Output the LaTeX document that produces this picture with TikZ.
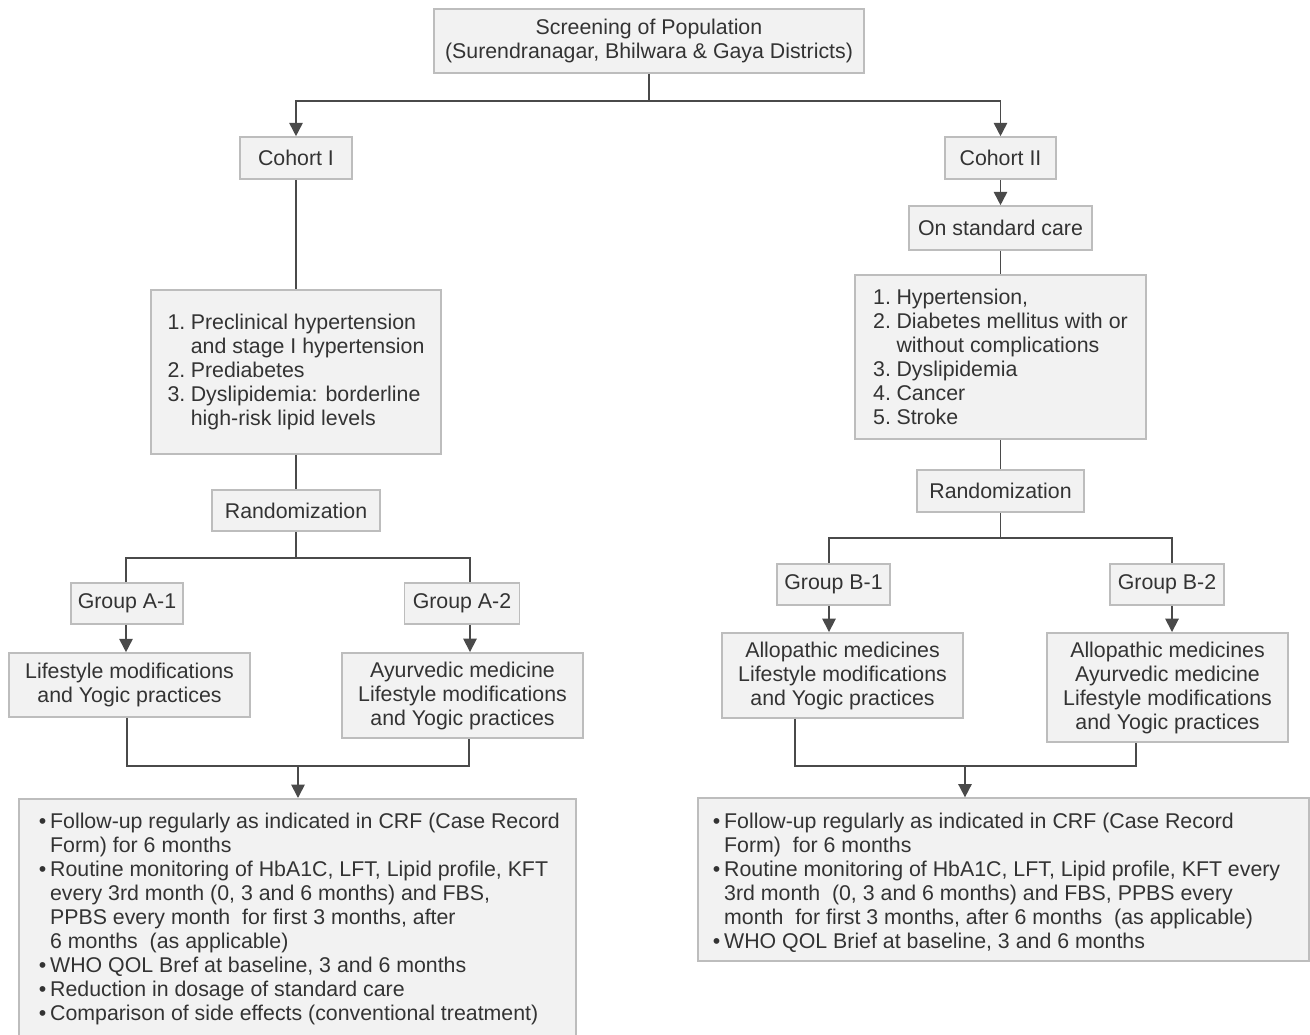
\documentclass[tikz,border=0pt]{standalone}
\usepackage{fontspec}
\setmainfont{Liberation Sans}
\usetikzlibrary{arrows.meta}
\definecolor{boxfill}{HTML}{F2F2F2}
\definecolor{boxline}{HTML}{BDBDBD}
\definecolor{wirecol}{HTML}{4A4A4A}
\definecolor{ink}{HTML}{333333}
% bullet and hanging indent for the list boxes
\newcommand\bul{\makebox[8.5pt][l]{\textbullet}}
\newcommand\bind{\hspace*{8.5pt}}
\newcommand\num[1]{\makebox[17.5pt][l]{#1}}
\newcommand\nind{\hspace*{17.5pt}}

\begin{document}
\begin{tikzpicture}[x=0.75pt,y=-0.75pt,
  box/.style={draw=boxline, fill=boxfill, line width=1.2pt, inner sep=0pt,
    text=ink, font=\fontsize{16}{18}\selectfont, align=center},
  listbox/.style={box, align=left},
  wire/.style={draw=wirecol, line width=1.3pt},
  arr/.style={wire, -{Triangle[width=10pt,length=10pt]}}]
\path[use as bounding box, clip] (0,0) rectangle (1310,1035);

% ---- top ----
\node[box, minimum width=322.5pt, minimum height=48pt] (screen) at (649,41)
  {Screening of Population\\(Surendranagar, Bhilwara \& Gaya Districts)};
\node[box, minimum width=84pt, minimum height=31.5pt] (c1) at (296,158) {Cohort I};
\node[box, minimum width=83pt, minimum height=31.5pt] (c2) at (1000.5,158) {Cohort II};
\coordinate (split) at (649,101);
\draw[wire] (screen.south) -- (split);
\draw[arr] (split) -| (c1.north);
\draw[arr] (split) -| (c2.north);

% ---- cohort I ----
\node[listbox, minimum width=217.5pt, minimum height=123pt] (listL) at (296,372)
  {\num{1.}Preclinical hypertension\\
   \nind and stage I hypertension\\
   \num{2.}Prediabetes\\
   \num{3.}Dyslipidemia: borderline\\
   \nind high-risk lipid levels};
\node[box, minimum width=126pt, minimum height=31pt] (randL) at (296,510.5) {Randomization};
\draw[wire] (c1.south) -- (listL.north);
\draw[wire] (listL.south) -- (randL.north);

\node[box, minimum width=84pt, minimum height=31pt] (gA1) at (127,603.5) {Group A-1};
\node[box, minimum width=86pt, minimum height=31pt] (gA2) at (462,603.5) {Group A-2};
\node[box, minimum width=181pt, minimum height=48pt] (bA1) at (129.5,685)
  {Lifestyle modifications\\and Yogic practices};
\node[box, minimum width=181pt, minimum height=64pt] (bA2) at (462.5,695.5)
  {Ayurvedic medicine\\Lifestyle modifications\\and Yogic practices};
\coordinate (a1x) at (126,558);
\coordinate (a2x) at (470,558);
\draw[wire] (randL.south) -- (randL.south |- a1x);
\draw[wire] (gA1.north -| a1x) -- (a1x) -- (a2x) -- (gA2.north -| a2x);
\draw[arr] (gA1.south -| a1x) -- (bA1.north -| a1x);
\draw[arr] (gA2.south -| a2x) -- (bA2.north -| a2x);

% follow-up box of cohort I (runs off the lower edge)
\node[box, anchor=north, minimum width=418pt, minimum height=200pt] (flA) at (297.5,798) {};
\node[listbox, draw=none, fill=none, anchor=north west] (flAtext) at (38,812)
  {\bul Follow-up regularly as indicated in CRF (Case Record\\
   \bind Form) for 6 months\\
   \bul Routine monitoring of HbA1C, LFT, Lipid profile, KFT\\
   \bind every 3rd month (0, 3 and 6 months) and FBS,\\
   \bind PPBS every month\ \ for first 3 months, after\\
   \bind 6 months\ \ (as applicable)\\
   \bul WHO QOL Bref at baseline, 3 and 6 months\\
   \bul Reduction in dosage of standard care\\
   \bul Comparison of side effects (conventional treatment)};
\coordinate (jA) at (298,766);
\coordinate (oA1) at (127,0);
\coordinate (oA2) at (469,0);
\draw[wire] (bA1.south -| oA1) -- (oA1 |- jA) -- (oA2 |- jA) -- (bA2.south -| oA2);
\draw[arr] (jA) -- (jA |- flA.north);

% ---- cohort II ----
\node[box, minimum width=137pt, minimum height=33pt] (std) at (1000.5,228) {On standard care};
\node[listbox, minimum width=218pt, minimum height=123pt] (listR) at (1000.5,357)
  {\num{1.}Hypertension,\\
   \num{2.}Diabetes mellitus with or\\
   \nind without complications\\
   \num{3.}Dyslipidemia\\
   \num{4.}Cancer\\
   \num{5.}Stroke};
\node[box, minimum width=125pt, minimum height=31.5pt] (randR) at (1000.5,491) {Randomization};
\draw[arr] (c2.south) -- (std.north);
\draw[wire] (std.south) -- (listR.north);
\draw[wire] (listR.south) -- (randR.north);

\node[box, minimum width=85pt, minimum height=31pt] (gB1) at (833.5,584.5) {Group B-1};
\node[box, minimum width=85.5pt, minimum height=31pt] (gB2) at (1167,584.5) {Group B-2};
\node[box, minimum width=181pt, minimum height=64pt] (bB1) at (842.5,675.5)
  {Allopathic medicines\\Lifestyle modifications\\and Yogic practices};
\node[box, minimum width=181pt, minimum height=82pt] (bB2) at (1167.5,687.5)
  {Allopathic medicines\\Ayurvedic medicine\\Lifestyle modifications\\and Yogic practices};
\coordinate (b1x) at (829,538);
\coordinate (b2x) at (1172,538);
\draw[wire] (randR.south) -- (randR.south |- b1x);
\draw[wire] (gB1.north -| b1x) -- (b1x) -- (b2x) -- (gB2.north -| b2x);
\draw[arr] (gB1.south -| b1x) -- (bB1.north -| b1x);
\draw[arr] (gB2.south -| b2x) -- (bB2.north -| b2x);

% follow-up box of cohort II
\node[box, minimum width=458pt, minimum height=122pt] (flB) at (1003.5,879.5) {};
\node[listbox, draw=none, fill=none, anchor=north west] (flBtext) at (712,812)
  {\bul Follow-up regularly as indicated in CRF (Case Record\\
   \bind Form)\ \ for 6 months\\
   \bul Routine monitoring of HbA1C, LFT, Lipid profile, KFT every\\
   \bind 3rd month\ \ (0, 3 and 6 months) and FBS, PPBS every\\
   \bind month\ \ for first 3 months, after 6 months\ \ (as applicable)\\
   \bul WHO QOL Brief at baseline, 3 and 6 months};
\coordinate (jB) at (965,766);
\coordinate (oB1) at (795,0);
\coordinate (oB2) at (1136,0);
\draw[wire] (bB1.south -| oB1) -- (oB1 |- jB) -- (oB2 |- jB) -- (bB2.south -| oB2);
\draw[arr] (jB) -- (jB |- flB.north);
\end{tikzpicture}
\end{document}
